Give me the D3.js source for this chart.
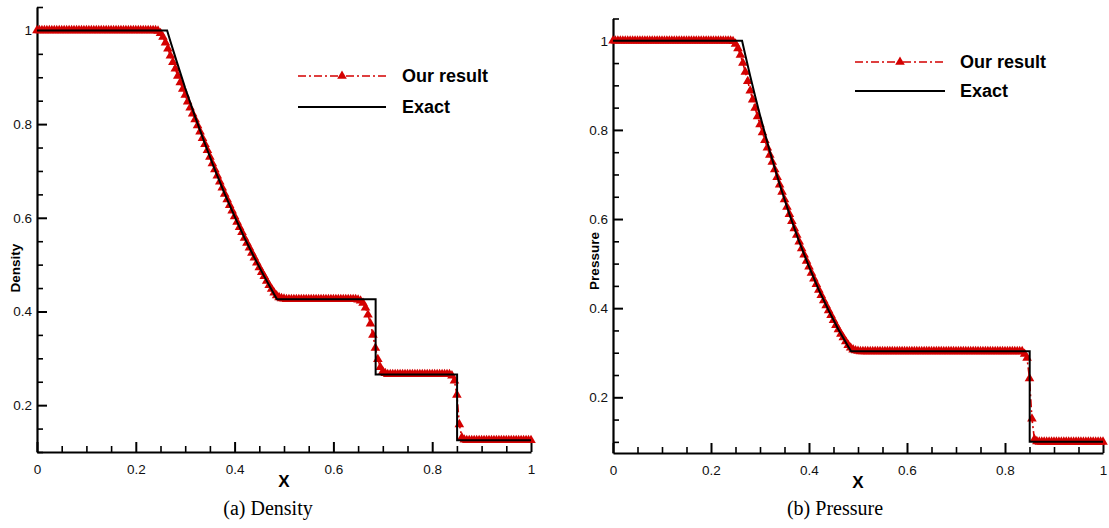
<!DOCTYPE html>
<html><head><meta charset="utf-8">
<script src="https://cdn.jsdelivr.net/npm/d3@7"></script>
<style>body{margin:0;background:#fff;} svg{display:block;}</style>
</head><body>
<svg id="c" width="1109" height="528"></svg>
<script>
// grid nodes of the numerical solution
const gridX = [
0,0.005,0.01,0.015,0.02,0.025,0.03,0.035,0.04,0.045,
0.05,0.055,0.06,0.065,0.07,0.075,0.08,0.085,0.09,0.095,
0.1,0.105,0.11,0.115,0.12,0.125,0.13,0.135,0.14,0.145,
0.15,0.155,0.16,0.165,0.17,0.175,0.18,0.185,0.19,0.195,
0.2,0.205,0.21,0.215,0.22,0.225,0.23,0.235,0.24,0.245,
0.25,0.255,0.26,0.265,0.27,0.275,0.28,0.285,0.29,0.295,
0.3,0.305,0.31,0.315,0.32,0.325,0.33,0.335,0.34,0.345,
0.35,0.355,0.36,0.365,0.37,0.375,0.38,0.385,0.39,0.395,
0.4,0.405,0.41,0.415,0.42,0.425,0.43,0.435,0.44,0.445,
0.45,0.455,0.46,0.465,0.47,0.475,0.48,0.485,0.49,0.495,
0.5,0.505,0.51,0.515,0.52,0.525,0.53,0.535,0.54,0.545,
0.55,0.555,0.56,0.565,0.57,0.575,0.58,0.585,0.59,0.595,
0.6,0.605,0.61,0.615,0.62,0.625,0.63,0.635,0.64,0.645,
0.65,0.655,0.66,0.665,0.67,0.675,0.68,0.685,0.69,0.695,
0.7,0.705,0.71,0.715,0.72,0.725,0.73,0.735,0.74,0.745,
0.75,0.755,0.76,0.765,0.77,0.775,0.78,0.785,0.79,0.795,
0.8,0.805,0.81,0.815,0.82,0.825,0.83,0.835,0.84,0.845,
0.85,0.855,0.86,0.865,0.87,0.875,0.88,0.885,0.89,0.895,
0.9,0.905,0.91,0.915,0.92,0.925,0.93,0.935,0.94,0.945,
0.95,0.955,0.96,0.965,0.97,0.975,0.98,0.985,0.99,0.995,
1];

const densityOurs = [
1,1,1,1,1,1,1,1,1,1,
1,1,1,1,1,1,1,1,1,1,
1,1,1,1,1,1,1,1,1,1,
1,1,1,1,1,1,1,1,1,1,
1,1,1,1,1,1,1,1,1,0.999,
0.994,0.986,0.974,0.961,0.946,0.932,0.918,0.903,0.889,0.875,
0.862,0.848,0.835,0.822,0.810,0.797,0.784,0.770,0.757,0.744,
0.730,0.716,0.703,0.690,0.677,0.664,0.651,0.639,0.627,0.615,
0.603,0.591,0.580,0.569,0.557,0.546,0.536,0.525,0.515,0.504,
0.494,0.484,0.475,0.465,0.456,0.448,0.440,0.434,0.430,0.428,
0.427,0.426,0.426,0.426,0.426,0.426,0.426,0.426,0.426,0.426,
0.426,0.426,0.426,0.426,0.426,0.426,0.426,0.426,0.426,0.426,
0.426,0.426,0.426,0.426,0.426,0.426,0.426,0.426,0.426,0.426,
0.425,0.423,0.418,0.408,0.393,0.374,0.350,0.322,0.298,0.281,
0.272,0.268,0.266,0.266,0.266,0.266,0.266,0.266,0.266,0.266,
0.266,0.266,0.266,0.266,0.266,0.266,0.266,0.266,0.266,0.266,
0.266,0.266,0.266,0.266,0.266,0.266,0.266,0.266,0.263,0.252,
0.222,0.159,0.131,0.126,0.125,0.125,0.125,0.125,0.125,0.125,
0.125,0.125,0.125,0.125,0.125,0.125,0.125,0.125,0.125,0.125,
0.125,0.125,0.125,0.125,0.125,0.125,0.125,0.125,0.125,0.125,
0.125];

const pressureOurs = [
1,1,1,1,1,1,1,1,1,1,
1,1,1,1,1,1,1,1,1,1,
1,1,1,1,1,1,1,1,1,1,
1,1,1,1,1,1,1,1,1,1,
1,1,1,1,1,1,1,1,1,0.999,
0.993,0.983,0.968,0.950,0.930,0.909,0.888,0.868,0.849,0.830,
0.812,0.794,0.777,0.760,0.744,0.728,0.711,0.694,0.677,0.661,
0.644,0.627,0.611,0.595,0.579,0.564,0.549,0.534,0.520,0.506,
0.493,0.479,0.466,0.454,0.441,0.429,0.417,0.406,0.395,0.384,
0.373,0.362,0.352,0.342,0.334,0.325,0.317,0.311,0.307,0.305,
0.304,0.303,0.303,0.303,0.303,0.303,0.303,0.303,0.303,0.303,
0.303,0.303,0.303,0.303,0.303,0.303,0.303,0.303,0.303,0.303,
0.303,0.303,0.303,0.303,0.303,0.303,0.303,0.303,0.303,0.303,
0.303,0.303,0.303,0.303,0.303,0.303,0.303,0.303,0.303,0.303,
0.303,0.303,0.303,0.303,0.303,0.303,0.303,0.303,0.303,0.303,
0.303,0.303,0.303,0.303,0.303,0.303,0.303,0.303,0.303,0.303,
0.303,0.303,0.303,0.303,0.303,0.303,0.303,0.303,0.297,0.288,
0.242,0.152,0.106,0.101,0.1,0.1,0.1,0.1,0.1,0.1,
0.1,0.1,0.1,0.1,0.1,0.1,0.1,0.1,0.1,0.1,
0.1,0.1,0.1,0.1,0.1,0.1,0.1,0.1,0.1,0.1,
0.1];

// exact solution polylines
const exactDensityX = [0,0.2634,0.27,0.28,0.29,0.30,0.32,0.34,0.36,0.38,0.40,0.42,0.44,0.46,0.48,0.4859,0.6855,0.6855,0.8504,0.8504,1];
const exactDensityY = [1,1,0.977,0.943,0.910,0.877,0.816,0.758,0.703,0.651,0.603,0.557,0.515,0.475,0.437,0.4263,0.4263,0.2656,0.2656,0.125,0.125];
const exactPressureX = [0,0.2634,0.27,0.28,0.29,0.30,0.32,0.34,0.36,0.38,0.40,0.42,0.44,0.46,0.48,0.4859,0.8504,0.8504,1];
const exactPressureY = [1,1,0.968,0.921,0.876,0.833,0.752,0.678,0.611,0.549,0.493,0.441,0.395,0.352,0.314,0.3031,0.3031,0.1,0.1];

const xTickValues = [0,0.2,0.4,0.6,0.8,1];
const xTickLabels = ["0","0.2","0.4","0.6","0.8","1"];
const xMinorTicks = [0.05,0.1,0.15,0.25,0.3,0.35,0.45,0.5,0.55,0.65,0.7,0.75,0.85,0.9,0.95];
const yTickValues = [0.2,0.4,0.6,0.8,1];
const yTickLabels = ["0.2","0.4","0.6","0.8","1"];
const yMinorTicks = [0.1,0.15,0.25,0.3,0.35,0.45,0.5,0.55,0.65,0.7,0.75,0.85,0.9,0.95,1.05];
const yTitles = ["Density","Pressure"];
const panelCaptions = ["(a) Density","(b) Pressure"];
const legendLabels = ["Our result","Exact"];
const xTitle = "X";

const RED = "#d40000";
const svg = d3.select("#c");

const panels = [
  {ours: densityOurs, ex: exactDensityX, ey: exactDensityY, yTitle: yTitles[0], caption: panelCaptions[0],
   xr:[37,531], yr:[452,7], yd:[0.1,1.05], yTitlePos:[15,268], captionPos:[268,515],
   leg:{x0:298,x1:386,y0:76,y1:107,tx:402}},
  {ours: pressureOurs, ex: exactPressureX, ey: exactPressureY, yTitle: yTitles[1], caption: panelCaptions[1],
   xr:[613,1103], yr:[453,18.5], yd:[0.075,1.05], yTitlePos:[594,261], captionPos:[835,515],
   leg:{x0:855,x1:945,y0:62,y1:91,tx:960}}
];

panels.forEach(p => {
  const x = d3.scaleLinear().domain([0,1]).range(p.xr);
  const y = d3.scaleLinear().domain(p.yd).range(p.yr);
  const g = svg.append("g");
  const yBottom = p.yr[0];
  const xLeft = p.xr[0];

  // minor ticks
  const xMinor = g.append("g").attr("transform",`translate(0,${yBottom})`)
    .call(d3.axisBottom(x).tickValues(xMinorTicks).tickSizeInner(-6).tickSizeOuter(0).tickFormat(""));
  const yMinor = g.append("g").attr("transform",`translate(${xLeft},0)`)
    .call(d3.axisLeft(y).tickValues(yMinorTicks).tickSizeInner(-6).tickSizeOuter(0).tickFormat(""));
  [xMinor,yMinor].forEach(a => { a.select(".domain").remove(); a.selectAll("line").attr("stroke","#000").attr("stroke-width",1.6); });

  // major axes
  const xAx = g.append("g").attr("transform",`translate(0,${yBottom})`)
    .call(d3.axisBottom(x).tickValues(xTickValues).tickFormat((d,i)=>xTickLabels[i]).tickSizeInner(-10).tickSizeOuter(0).tickPadding(12));
  const yAx = g.append("g").attr("transform",`translate(${xLeft},0)`)
    .call(d3.axisLeft(y).tickValues(yTickValues).tickFormat((d,i)=>yTickLabels[i]).tickSizeInner(-10).tickSizeOuter(0).tickPadding(5));
  [xAx,yAx].forEach(a => {
    a.select(".domain").attr("stroke","#000").attr("stroke-width",2.2);
    a.selectAll("line").attr("stroke","#000").attr("stroke-width",2);
    a.selectAll("text").attr("fill","#111").style("font-family","'Liberation Sans', Arial, sans-serif").style("font-size","13.5px");
  });

  // numerical data
  const pts = gridX.map((xv,i)=>[xv,p.ours[i]]);
  g.append("path").datum(pts)
    .attr("d", d3.line().x(d=>x(d[0])).y(d=>y(d[1])))
    .attr("fill","none").attr("stroke",RED).attr("stroke-width",1.6).attr("stroke-dasharray","8,3,2,3");
  g.append("g").selectAll("path").data(pts).join("path")
    .attr("transform", d=>`translate(${x(d[0])},${y(d[1])})`)
    .attr("d", d3.symbol(d3.symbolTriangle).size(40))
    .attr("fill",RED);

  // exact
  const epts = p.ex.map((xv,i)=>[xv,p.ey[i]]);
  g.append("path").datum(epts)
    .attr("d", d3.line().x(d=>x(d[0])).y(d=>y(d[1])))
    .attr("fill","none").attr("stroke","#000").attr("stroke-width",2).attr("stroke-linejoin","miter");

  // titles
  g.append("text").attr("x",(p.xr[0]+p.xr[1])/2).attr("y",yBottom+35)
    .attr("text-anchor","middle").style("font-family","'Liberation Sans', Arial, sans-serif")
    .style("font-weight","bold").style("font-size","17px").text(xTitle);
  g.append("text").attr("transform",`translate(${p.yTitlePos[0]},${p.yTitlePos[1]}) rotate(-90)`)
    .attr("text-anchor","middle").attr("dy","0.35em").style("font-family","'Liberation Sans', Arial, sans-serif")
    .style("font-weight","bold").style("font-size","13.5px").text(p.yTitle);
  g.append("text").attr("x",p.captionPos[0]).attr("y",p.captionPos[1])
    .attr("text-anchor","middle").style("font-family","'Liberation Serif', 'Times New Roman', serif")
    .style("font-size","20px").text(p.caption);

  // legend
  const L = p.leg;
  g.append("line").attr("x1",L.x0).attr("x2",L.x1).attr("y1",L.y0).attr("y2",L.y0)
    .attr("stroke",RED).attr("stroke-width",1.6).attr("stroke-dasharray","8,3,2,3");
  g.append("path").attr("transform",`translate(${(L.x0+L.x1)/2},${L.y0})`)
    .attr("d", d3.symbol(d3.symbolTriangle).size(40)).attr("fill",RED);
  g.append("line").attr("x1",L.x0).attr("x2",L.x1).attr("y1",L.y1).attr("y2",L.y1)
    .attr("stroke","#000").attr("stroke-width",2);
  [[legendLabels[0],L.y0],[legendLabels[1],L.y1]].forEach(([t,yy])=>{
    g.append("text").attr("x",L.tx).attr("y",yy).attr("dy","0.35em")
      .style("font-family","'Liberation Sans', Arial, sans-serif").style("font-weight","bold")
      .style("font-size","18px").attr("fill","#000").text(t);
  });
});
</script>
</body></html>
